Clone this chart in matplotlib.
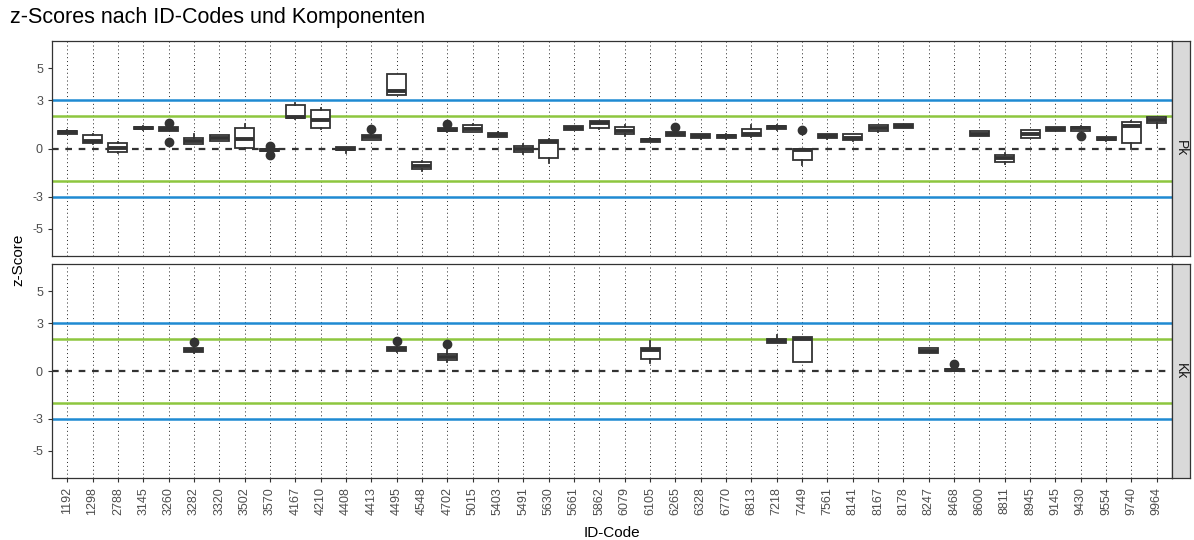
import numpy as np
import matplotlib.pyplot as plt

plt.rcParams['font.family'] = ['Liberation Sans', 'DejaVu Sans']

# ID codes on the x axis
codes = ['1192', '1298', '2788', '3145', '3260', '3282', '3320', '3502', '3570', '4167',
         '4210', '4408', '4413', '4495', '4548', '4702', '5015', '5403', '5491', '5630',
         '5661', '5862', '6079', '6105', '6265', '6328', '6770', '6813', '7218', '7449',
         '7561', '8141', '8167', '8178', '8247', '8468', '8600', '8811', '8945', '9145',
         '9430', '9554', '9740', '9964']

# Pk component: box statistics per code
pk_codes = ['1192', '1298', '2788', '3145', '3260', '3282', '3320', '3502', '3570', '4167',
            '4210', '4408', '4413', '4495', '4548', '4702', '5015', '5403', '5491', '5630',
            '5661', '5862', '6079', '6105', '6265', '6328', '6770', '6813', '7218', '7449',
            '7561', '8141', '8167', '8178', '8600', '8811', '8945', '9145', '9430', '9554',
            '9740', '9964']
pk_lo = [0.88, 0.25, -0.25, 1.18, 1.10, 0.25, 0.45, -0.02, -0.20, 1.84,
         1.24, -0.30, 0.52, 3.31, -1.40, 1.04, 1.01, 0.70, -0.35, -0.93,
         1.16, 1.22, 0.78, 0.39, 0.77, 0.62, 0.62, 0.72, 1.18, -1.00,
         0.62, 0.46, 1.04, 1.26, 0.75, -0.95, 0.64, 1.10, 1.10, 0.48,
         0.00, 1.30]
pk_q1 = [0.92, 0.32, -0.20, 1.20, 1.12, 0.28, 0.48, 0.02, -0.18, 1.88,
         1.26, -0.12, 0.55, 3.33, -1.28, 1.06, 1.03, 0.73, -0.24, -0.62,
         1.18, 1.25, 0.90, 0.41, 0.80, 0.65, 0.65, 0.75, 1.20, -0.70,
         0.65, 0.50, 1.07, 1.28, 0.78, -0.87, 0.67, 1.12, 1.12, 0.50,
         0.35, 1.57]
pk_med = [1.00, 0.45, 0.05, 1.27, 1.20, 0.45, 0.65, 0.58, -0.12, 1.97,
          1.80, 0.00, 0.72, 3.58, -1.10, 1.15, 1.20, 0.85, -0.04, 0.40,
          1.30, 1.60, 1.08, 0.50, 0.90, 0.80, 0.75, 0.90, 1.32, -0.10,
          0.78, 0.68, 1.25, 1.40, 0.93, -0.62, 0.89, 1.22, 1.25, 0.60,
          1.39, 1.76]
pk_q3 = [1.12, 0.82, 0.35, 1.35, 1.32, 0.66, 0.82, 1.25, -0.05, 2.70,
         2.40, 0.10, 0.86, 4.62, -0.82, 1.25, 1.48, 0.98, 0.15, 0.55,
         1.38, 1.70, 1.32, 0.62, 1.02, 0.90, 0.86, 1.20, 1.43, -0.06,
         0.90, 0.90, 1.46, 1.52, 1.07, -0.39, 1.15, 1.32, 1.36, 0.70,
         1.64, 1.95]
pk_hi = [1.15, 0.88, 0.40, 1.38, 1.36, 0.93, 0.85, 1.55, -0.02, 2.85,
         2.55, 0.12, 0.89, 4.66, -0.80, 1.28, 1.51, 1.01, 0.25, 0.60,
         1.41, 1.72, 1.45, 0.64, 1.04, 0.93, 0.89, 1.45, 1.45, -0.04,
         0.93, 0.93, 1.49, 1.55, 1.10, -0.30, 1.18, 1.35, 1.39, 0.72,
         1.70, 1.97]
pk_out = [[], [], [], [], [1.60, 0.43], [], [], [], [0.15, -0.38], [],
          [], [], [1.24], [], [], [1.55], [], [], [], [],
          [], [], [], [], [1.35], [], [], [], [], [1.18],
          [], [], [], [], [], [], [], [], [0.80], [],
          [], []]

# Kk component: box statistics per code
kk_codes = ['3282', '4495', '4702', '6105', '7218', '7449', '8247', '8468']
kk_lo = [1.14, 1.20, 0.55, 0.50, 1.76, 0.56, 1.10, -0.02]
kk_q1 = [1.16, 1.23, 0.72, 0.75, 1.78, 0.58, 1.13, 0.00]
kk_med = [1.30, 1.40, 0.85, 1.30, 1.90, 2.00, 1.28, 0.08]
kk_q3 = [1.46, 1.52, 1.05, 1.45, 2.00, 2.10, 1.42, 0.13]
kk_hi = [1.49, 1.55, 1.30, 1.85, 2.28, 2.13, 1.45, 0.15]
kk_out = [[1.80], [1.86], [1.66], [], [], [], [], [0.45]]

yticks = [-5, -3, 0, 3, 5]

dark = '#333333'
blue = '#1F8AD2'
green = '#8DC63F'
tick_col = '#4D4D4D'


def make_stats(cds, lo, q1, med, q3, hi, out):
    stats = []
    for i in range(len(cds)):
        stats.append(dict(whislo=lo[i], q1=q1[i], med=med[i], q3=q3[i],
                          whishi=hi[i], fliers=out[i]))
    return stats


def draw_panel(ax, stats, cds, label, show_x):
    pos = [codes.index(c) for c in cds]
    ax.set_ylim(-6.7, 6.7)
    ax.set_yticks(yticks)
    ax.set_yticklabels([str(t) for t in yticks])
    ax.grid(axis='x', color='#222222', linestyle=(0, (1, 3)), linewidth=0.7)
    ax.set_axisbelow(True)

    # reference lines
    for v in (3, -3):
        ax.axhline(v, color=blue, lw=1.8, zorder=1)
    for v in (2, -2):
        ax.axhline(v, color=green, lw=1.8, zorder=1)
    ax.axhline(0, color=dark, lw=1.6, linestyle=(0, (3, 3)), zorder=1)

    ax.bxp(stats, positions=pos, widths=0.75, showcaps=False, patch_artist=True,
           boxprops=dict(facecolor='white', edgecolor=dark, linewidth=1.3),
           whiskerprops=dict(color=dark, linewidth=1.3),
           medianprops=dict(color=dark, linewidth=2.8, solid_capstyle='butt'),
           flierprops=dict(marker='o', markerfacecolor=dark, markeredgecolor=dark,
                           markersize=6),
           zorder=3)

    ax.set_xlim(-0.6, len(codes) - 0.4)
    ax.set_xticks(np.arange(len(codes)))
    if show_x:
        ax.set_xticklabels(codes, rotation=90, fontsize=9, color=tick_col)
    else:
        ax.set_xticklabels([])
        ax.tick_params(axis='x', length=0)
    ax.tick_params(axis='both', length=3, color=dark, width=0.8)
    if not show_x:
        ax.tick_params(axis='x', length=0)
    ax.tick_params(axis='y', labelsize=9, labelcolor=tick_col)
    for s in ax.spines.values():
        s.set_color(dark)
        s.set_linewidth(0.9)

    # facet strip on the right
    bb = ax.get_position()
    strip = ax.figure.add_axes([bb.x1, bb.y0, 18 / 1194, bb.height])
    strip.set_facecolor('#D9D9D9')
    strip.set_xticks([])
    strip.set_yticks([])
    for s in strip.spines.values():
        s.set_color(dark)
        s.set_linewidth(0.9)
    strip.text(0.5, 0.5, label, rotation=270, ha='center', va='center',
               fontsize=10, color='#1A1A1A', transform=strip.transAxes)


fig = plt.figure(figsize=(11.94, 5.4), dpi=100)
left, right = 52 / 1194, 1172 / 1194
ax_pk = fig.add_axes([left, 1 - 256 / 540, right - left, 215 / 540])
ax_kk = fig.add_axes([left, 1 - 478 / 540, right - left, 214 / 540])

draw_panel(ax_pk, make_stats(pk_codes, pk_lo, pk_q1, pk_med, pk_q3, pk_hi, pk_out),
           pk_codes, 'Pk', False)
draw_panel(ax_kk, make_stats(kk_codes, kk_lo, kk_q1, kk_med, kk_q3, kk_hi, kk_out),
           kk_codes, 'Kk', True)

fig.text(10 / 1194, 1 - 18 / 540, 'z-Scores nach ID-Codes und Komponenten',
         fontsize=15.5, va='center', ha='left', color='black')
fig.text(18 / 1194, 1 - 260 / 540, 'z-Score', rotation=90, fontsize=11,
         va='center', ha='center')
fig.text((left + right) / 2, 1 - 533 / 540, 'ID-Code', fontsize=11,
         va='center', ha='center')

fig.savefig('out.png', dpi=100)
